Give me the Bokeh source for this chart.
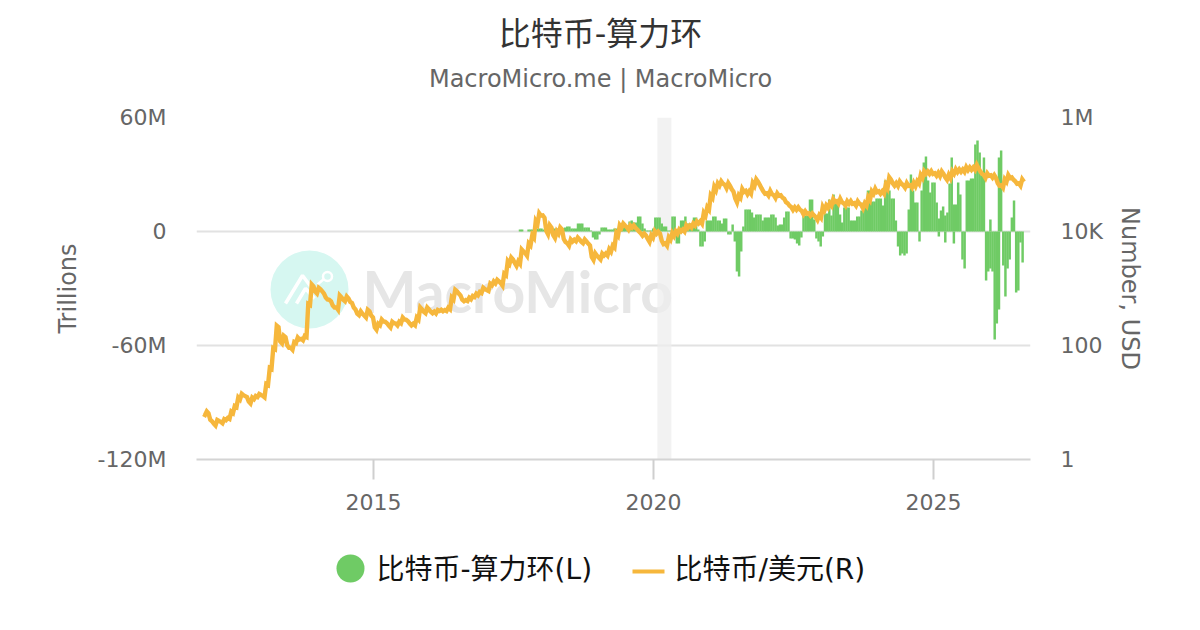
from bokeh.plotting import figure
from bokeh.layouts import column
from bokeh.models import Range1d, LogScale, LogAxis, FixedTicker
from bokeh.core.properties import value
from bokeh.embed import file_html
from bokeh.resources import INLINE

TITLE = "比特币-算力环"
SUBTITLE = "MacroMicro.me | MacroMicro"
LEGEND_LEFT = "比特币-算力环(L)"
LEGEND_RIGHT = "比特币/美元(R)"
LEFT_TICKS = [-120, -60, 0, 60]
LEFT_LABELS = ["-120M", "-60M", "0", "60M"]
RIGHT_TICKS = [1, 100, 10000, 1000000]
RIGHT_LABELS = ["1", "100", "10K", "1M"]
X_TICKS = [2015, 2020, 2025]
RECESSION = [2020.07, 2020.32]

# BTC/USD, one reading every 1/16 year from 2011.96
btc_usd = [
 6.16,6.7,4.83,4.1,4.83,4.45,5.0,5.25,6.7,8.5,11.8,13.8,12.7,10,11.8,12.7,13.8,12.7,20.7,39.5,
 88,216,113,144,96,88,113,133,127,144,524,1130,851,1000,851,668,616,483,446,724,
 616,695,568,446,350,379,323,411,323,199,234,275,253,216,253,234,253,298,275,234,
 234,298,446,379,446,379,379,411,411,411,446,668,922,785,616,616,668,724,785,851,
 1000,922,1180,1280,1380,1180,1760,2860,3360,2640,2860,4640,3950,5910,8160,14400,19900,18300,9600,12200,
 8160,9600,11300,6950,5910,6950,6950,7530,6410,6950,5910,3360,3950,3360,3950,3950,4640,5450,8850,12200,
 13300,11300,12200,12200,10400,8850,8850,6950,8160,9600,9600,6410,5910,7530,8850,9600,10400,10400,12200,12200,
 13300,14400,14400,19900,25300,41100,56800,66800,72400,61600,66800,52400,35000,41100,52400,48300,48300,66800,78500,61600,
 48300,44600,48300,41100,44600,41100,35000,29800,25300,25300,25300,21500,21500,19900,19900,16900,18300,25300,27400,29800,
 35000,32300,35000,29800,32300,32300,29800,32300,27400,29800,37900,48300,52400,48300,48300,61600,85000,66800,66800,72400,
 61600,66800,61600,66800,72400,92200,108000,108000,108000,100000,100000,108000,85000,92200,108000,117000,117000,117000,127000,127000,
 127000,138000,108000,92200,100000,92200,92200,66800,61600,78500,92200,85000,72400,66800,78500,
]
# half-height of the noisy price band at each reading, as a price ratio
btc_band = [
 1.02,1.04,1.03,1.04,1.02,1.03,1.02,1.02,1.03,1.02,1.04,1.03,1.02,1.04,1.03,1.02,1.02,1.03,1.02,1.02,
 1.02,1.03,1.04,1.03,1.05,1.04,1.02,1.04,1.03,1.02,1.02,1.04,1.04,1.03,1.05,1.04,1.03,1.04,1.05,1.04,
 1.03,1.04,1.02,1.04,1.03,1.05,1.04,1.03,1.04,1.05,1.03,1.04,1.03,1.04,1.03,1.04,1.03,1.04,1.03,1.04,
 1.03,1.04,1.04,1.03,1.04,1.03,1.04,1.02,1.03,1.02,1.03,1.04,1.03,1.04,1.03,1.02,1.03,1.02,1.03,1.02,
 1.03,1.02,1.03,1.04,1.03,1.05,1.03,1.05,1.04,1.06,1.05,1.04,1.05,1.04,1.05,1.06,1.05,1.05,1.07,1.05,
 1.06,1.05,1.04,1.06,1.05,1.04,1.03,1.04,1.03,1.04,1.04,1.06,1.05,1.04,1.04,1.04,1.05,1.04,1.05,1.05,
 1.04,1.05,1.04,1.05,1.04,1.05,1.04,1.06,1.05,1.05,1.04,1.07,1.05,1.05,1.06,1.05,1.04,1.04,1.05,1.04,
 1.04,1.04,1.05,1.06,1.05,1.05,1.07,1.05,1.05,1.07,1.06,1.05,1.08,1.05,1.06,1.07,1.05,1.06,1.05,1.07,
 1.05,1.05,1.07,1.06,1.05,1.05,1.07,1.05,1.06,1.05,1.05,1.07,1.05,1.05,1.04,1.06,1.05,1.07,1.05,1.05,
 1.06,1.05,1.07,1.05,1.05,1.06,1.05,1.05,1.07,1.05,1.06,1.05,1.07,1.05,1.05,1.07,1.05,1.05,1.06,1.05,
 1.05,1.06,1.05,1.07,1.05,1.06,1.05,1.05,1.06,1.05,1.07,1.05,1.05,1.07,1.05,1.06,1.05,1.05,1.06,1.05,
 1.05,1.07,1.05,1.06,1.05,1.05,1.06,1.05,1.05,1.05,1.06,1.05,1.05,1.05,1.05,1.05,
]

# Hash-rate change, millions, one reading per 14-day step from 2017.616
hash_change = [
 1.1,1.1,0,0,1.1,1.1,1.1,1.1,1.6,1.6,1.6,1.1,1.1,1.1,1.1,1.1,1.6,1.6,1.6,1.6,1.6,2.1,2.6,2.6,1.6,1.6,1.6,4.2,4.2,4.2,
 2.1,2.1,2.1,.5,-3.2,-4.2,-4.2,-1.6,2.1,2.1,2.1,1.1,1.1,1.1,1.6,1.6,1.6,1.6,2.1,2.6,2.6,5.3,
 5.8,4.7,4.7,7.9,7.9,4.2,1.6,.5,.5,.5,1.6,7.4,7.4,7.4,4.2,2.6,2.6,.5,.5,7.9,7.9,-6.3,-6.3,5.8,5.8,7.9,4.2,4.2,4.2,7.4,7.4,
 1.1,-7.9,-7.9,-5.3,5.8,5.8,5.8,7.9,7.9,5.8,5.8,4.2,6.8,6.8,-1.6,-1.6,
 3.7,-5.3,-21,-23.7,-10.5,2.6,11.6,11.6,11.6,10,7.4,8.9,8.9,8.9,5.8,7.4,7.4,7.4,8.9,8.9,7.4,3.2,3.7,3.7,7.4,10.5,10.5,
 -3.7,-3.7,-4.2,-6.3,-7.4,-3.2,8.4,8.4,8.4,16.8,16.8,6.3,-3.7,-5.3,-7.9,-2.6,9.5,9.5,16.8,
 8.4,19.5,14.7,14.7,8.9,4.7,12.6,12.6,12.6,5.8,5.8,5.8,7.9,7.9,11,15.3,15.3,21.6,21.6,15.8,15.8,17.4,17.4,17.4,13.7,26.8,26.8,21.6,17.4,17.4,
 5.8,-7.9,-12.6,-11.6,-12.6,-11.6,11.6,30,21.6,15.3,15.3,-5.3,21.6,36.3,39.5,26.8,
 20.5,25.8,25.8,15.3,-2.6,11,13.2,-5.8,10,25.3,38.9,-6.3,14.2,25.8,19.5,-14.7,-19.5,26.8,26.8,27.9,27.9,45.8,47.9,41.6,30,38.9,
 -25.8,-21,-19.5,-21,-56.8,-48.4,-41,42.6,-17.9,-34.2,-19.5,-14.7,7.4,16.3,-32.1,-31,-5.8,-16.3,
]
# Steps where the reference shows a second bar of the other sign
extra_step = [195, 198, 202, 219, 223]
extra_change = [6.8, 8.4, 14.2, 6.3, 38.9]

GREEN = "#6fcb65"
ORANGE = "#f6b73c"
GRID = "#e2e2e2"
TXT = "#666666"
CJK = value("DejaVu Sans, Noto Sans CJK SC")

# page pixel -> axis value helpers (used for decoration only)
def X(px): return 2015 + (px - 373) / 56
def Y(py): return (231 - py) / 1.9

def band_figure(top, bottom):
    """A bare strip of the page whose data units are page pixels.
    The column lines its frame up with the main chart's frame, x 196..1030."""
    f = figure(width=1200, height=bottom - top, output_backend="svg", toolbar_location=None,
               x_range=Range1d(196, 1030), y_range=Range1d(bottom, top),
               min_border=0, min_border_left=196, min_border_right=170,
               outline_line_color=None, x_axis_type=None, y_axis_type=None)
    f.grid.visible = False
    return f

# header
head = band_figure(0, 100)
head.text([600], [33], text=[TITLE], text_font=CJK, text_font_size="32px", text_color="#333333",
          text_align="center", text_baseline="middle")
head.text([600], [78], text=[SUBTITLE], text_font=value("DejaVu Sans"), text_font_size="24px", text_color=TXT,
          text_align="center", text_baseline="middle")

# main chart
p = figure(width=1200, height=430, output_backend="svg", toolbar_location=None,
           x_range=Range1d(X(196), X(1030)), y_range=Range1d(-120, 60),
           min_border_left=196, min_border_right=170, min_border_top=17, min_border_bottom=71,
           background_fill_color="white", border_fill_color="white", outline_line_color=None)

p.extra_y_ranges = {"usd": Range1d(1, 1000000)}
p.extra_y_scales = {"usd": LogScale()}

p.xgrid.visible = False
p.ygrid.ticker = FixedTicker(ticks=LEFT_TICKS)
p.ygrid.grid_line_color = GRID
p.ygrid.grid_line_width = 2

xa = p.xaxis[0]
xa.ticker = FixedTicker(ticks=X_TICKS)
xa.major_tick_out = 20
xa.major_tick_in = 0
xa.minor_tick_line_color = None
xa.major_tick_line_color = "#cfcfcf"
xa.major_tick_line_width = 2
xa.axis_line_color = "#d4d4d4"
xa.axis_line_width = 2
xa.major_label_text_font = "DejaVu Sans"
xa.major_label_text_font_size = "22px"
xa.major_label_text_color = TXT
xa.major_label_standoff = 14

ya = p.yaxis[0]
ya.ticker = FixedTicker(ticks=LEFT_TICKS)
ya.major_label_overrides = dict(zip(LEFT_TICKS, LEFT_LABELS))
ya.major_tick_line_color = None
ya.minor_tick_line_color = None
ya.axis_line_color = None
ya.major_label_text_font = "DejaVu Sans"
ya.major_label_text_font_size = "22px"
ya.major_label_text_color = TXT
ya.major_label_standoff = 24
ya.axis_label = "Trillions"
ya.axis_label_text_font = "DejaVu Sans"
ya.axis_label_text_font_style = "normal"
ya.axis_label_text_font_size = "24px"
ya.axis_label_text_color = TXT
ya.axis_label_standoff = 13

ra = LogAxis(y_range_name="usd", ticker=FixedTicker(ticks=RIGHT_TICKS))
ra.major_label_overrides = dict(zip(RIGHT_TICKS, RIGHT_LABELS))
ra.major_tick_line_color = None
ra.minor_tick_line_color = None
ra.axis_line_color = None
ra.major_label_text_font = "DejaVu Sans"
ra.major_label_text_font_size = "22px"
ra.major_label_text_color = TXT
ra.major_label_standoff = 24
ra.axis_label = "Number, USD"
ra.axis_label_text_font = "DejaVu Sans"
ra.axis_label_text_font_style = "normal"
ra.axis_label_text_font_size = "24px"
ra.axis_label_text_color = TXT
ra.axis_label_standoff = 10
p.add_layout(ra, "right")

# watermark
p.scatter([X(309)], [Y(289)], size=78, color="#d6f7f1", line_color=None)
p.line([X(285), X(302), X(311)], [Y(303), Y(275), Y(287)], line_color="white", line_width=3.5)
p.line([X(296), X(305), X(314)], [Y(303), Y(288), Y(298)], line_color="white", line_width=3.5)
p.line([X(317), X(324)], [Y(284), Y(278)], line_color="white", line_width=2.5)
p.scatter([X(327)], [Y(276)], size=9, fill_color="#d6f7f1", line_color="white", line_width=2.5)
p.text([X(362)], [Y(290)], text=["MacroMicro"], text_font=value("Lato"), text_font_style="bold",
       text_font_size="57px", text_color="#e6e6e6", text_baseline="middle", text_align="left")

# recession band
p.quad(left=[RECESSION[0]], right=[RECESSION[1]], bottom=[-120], top=[60],
       fill_color="#eeeeee", fill_alpha=0.75, line_color=None)

# bars
STEP = 14 / 365
bar_x = [2017.616 + i * STEP for i in range(len(hash_change))]
p.vbar(x=bar_x, top=hash_change, bottom=0, width=STEP * 1.15, fill_color=GREEN, line_color=None)
p.vbar(x=[2017.616 + i * STEP for i in extra_step], top=extra_change, bottom=0, width=STEP * 1.15,
       fill_color=GREEN, line_color=None)

# price: the reference's line is a noisy band, so each reading contributes its
# upper and its lower edge
price_x, price_y = [], []
for i, (usd, band) in enumerate(zip(btc_usd, btc_band)):
    t = 2011.96 + i / 16
    price_x += [t, t + 1 / 32]
    price_y += [usd * band, usd / band]
p.line(price_x, price_y, y_range_name="usd", line_color=ORANGE, line_width=4.4, line_join="miter")

# legend strip
foot = band_figure(530, 630)
foot.scatter([350], [568], size=28, color=GREEN, line_color=None)
foot.line([632, 664], [571, 571], line_color=ORANGE, line_width=4)
foot.text([376, 674], [569, 569], text=[LEGEND_LEFT, LEGEND_RIGHT], text_font=CJK, text_font_size="28px",
          text_color="#111111", text_align="left", text_baseline="middle")

page = column(head, p, foot, spacing=0)
open("out.html", "w").write(file_html(page, INLINE))
